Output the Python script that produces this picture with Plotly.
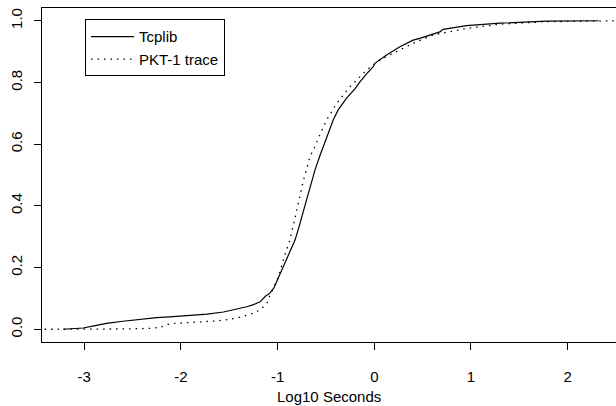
import plotly.graph_objects as go

# Tcplib CDF (solid)
tcplib_x = [-3.22, -3.01, -2.90, -2.77, -2.60, -2.42, -2.25, -2.08, -1.90, -1.73,
            -1.56, -1.45, -1.39, -1.32, -1.25, -1.18, -1.13, -1.08, -1.04, -1.01,
            -0.97, -0.94, -0.88, -0.82, -0.78, -0.735, -0.70, -0.65, -0.614, -0.56,
            -0.53, -0.48, -0.425, -0.373, -0.287, -0.20, -0.149, -0.08, -0.011, 0.006,
            0.127, 0.265, 0.402, 0.471, 0.60, 0.678, 0.712, 0.954, 1.30, 1.78, 2.32]
tcplib_y = [0.000, 0.004, 0.011, 0.019, 0.026, 0.033, 0.038, 0.041, 0.045, 0.049,
            0.056, 0.063, 0.068, 0.073, 0.080, 0.089, 0.106, 0.117, 0.133, 0.155,
            0.180, 0.203, 0.246, 0.289, 0.330, 0.376, 0.420, 0.475, 0.516, 0.565,
            0.590, 0.630, 0.678, 0.711, 0.749, 0.779, 0.802, 0.828, 0.851, 0.862,
            0.889, 0.916, 0.937, 0.943, 0.956, 0.964, 0.972, 0.984, 0.992, 0.999, 1.000]

# PKT-1 trace CDF (dotted)
pkt_x = [-3.41, -3.00, -2.60, -2.30, -2.20, -2.11, -2.00, -1.80, -1.63, -1.50,
         -1.39, -1.34, -1.25, -1.18, -1.11, -1.08, -1.04, -0.99, -0.942, -0.907,
         -0.873, -0.82, -0.78, -0.735, -0.666, -0.614, -0.55, -0.493, -0.39, -0.252,
         -0.08, 0.058, 0.23, 0.402, 0.609, 0.954, 1.30, 1.78, 2.60]
pkt_y = [0.000, 0.000, 0.001, 0.003, 0.008, 0.018, 0.021, 0.024, 0.027, 0.032,
         0.039, 0.043, 0.052, 0.063, 0.084, 0.110, 0.135, 0.170, 0.225, 0.257,
         0.289, 0.360, 0.420, 0.480, 0.559, 0.592, 0.640, 0.678, 0.732, 0.786,
         0.840, 0.873, 0.900, 0.927, 0.954, 0.975, 0.989, 0.997, 1.000]

x_ticks = [-3, -2, -1, 0, 1, 2]
x_tick_text = ["-3", "-2", "-1", "0", "1", "2"]
y_ticks = [0.0, 0.2, 0.4, 0.6, 0.8, 1.0]
y_tick_text = ["0.0", "0.2", "0.4", "0.6", "0.8", "1.0"]

FONT = "Liberation Sans, Arial, Helvetica, sans-serif"

fig = go.Figure()
fig.add_trace(go.Scatter(x=tcplib_x, y=tcplib_y, mode="lines", name="Tcplib",
                         line=dict(color="black", width=1.2)))
fig.add_trace(go.Scatter(x=pkt_x, y=pkt_y, mode="lines", name="PKT-1 trace",
                         line=dict(color="black", width=1.3, dash="1.5px,5px")))

fig.update_layout(
    width=616, height=406,
    margin=dict(l=42, r=0, t=8, b=64),
    paper_bgcolor="white", plot_bgcolor="white",
    font=dict(family=FONT, size=15, color="black"),
    showlegend=True,
    legend=dict(x=0.0749, y=0.966, xanchor="left", yanchor="top",
                bordercolor="black", borderwidth=1, bgcolor="white",
                font=dict(family=FONT, size=15, color="black"),
                tracegroupgap=0, itemwidth=43),
    xaxis=dict(range=[-3.437, 2.5], tickvals=x_ticks, ticktext=x_tick_text,
               ticks="outside", ticklen=7,
               tickcolor="black", tickwidth=1, showline=True, linecolor="black",
               linewidth=1, mirror=True, showgrid=False, zeroline=False,
               ticklabelstandoff=14, tickfont=dict(size=15)),
    yaxis=dict(range=[-0.0413, 1.0413], tickvals=y_ticks, ticktext=y_tick_text,
               tickangle=-90, ticks="outside", ticklen=7, tickcolor="black",
               tickwidth=1, showline=True, linecolor="black", linewidth=1,
               mirror=False, showgrid=False, zeroline=False,
               ticklabelstandoff=6, tickfont=dict(size=15)),
    annotations=[dict(text="Log10 Seconds", xref="paper", yref="paper",
                      x=0.5, y=-0.162, xanchor="center", yanchor="middle",
                      showarrow=False, font=dict(family=FONT, size=15, color="black"))],
)

fig.write_html("out.html")
